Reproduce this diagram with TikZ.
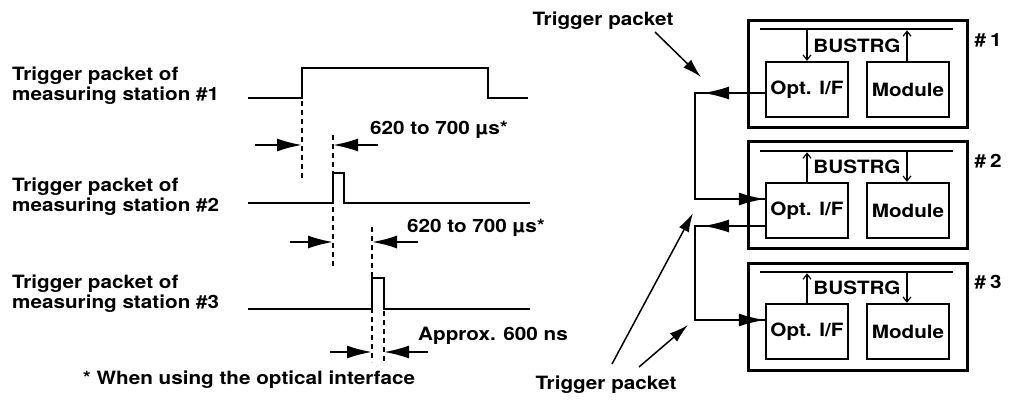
\documentclass[tikz,border=0pt]{standalone}
\usepackage{fontspec}
\setmainfont{TeX Gyre Heros}[FakeStretch=1.13]
\usetikzlibrary{arrows.meta}
\tikzset{
  wave/.style={line width=2.4pt, line join=miter},
  dashline/.style={line width=1.4pt, dash pattern=on 5pt off 4pt},
  dimarrow/.style={line width=2pt, -{Latex[length=25pt,width=13pt]}},
  conn/.style={line width=2pt, line join=miter},
  connarrow/.style={line width=2pt, -{Latex[length=26pt,width=13pt]}},
  trig/.style={line width=1.5pt, -{Latex[length=19pt,width=11pt]}},
  smallarrow/.style={line width=1.2pt, -{Straight Barb[length=5pt,width=8pt]}},
  outerbox/.style={draw, line width=3pt, minimum width=219pt, minimum height=107pt, inner sep=0pt},
  innerbox/.style={draw, line width=2.3pt, minimum width=82pt, minimum height=55pt, inner sep=0pt},
  busline/.style={line width=2.5pt},
  lbl/.style={inner sep=0pt, align=left},
}
\begin{document}
\begin{tikzpicture}[x=1pt, y=-1pt, font=\fontsize{18.3}{20}\selectfont\bfseries]
\useasboundingbox (0,0) rectangle (1009,399);

% ---- left labels
\node[lbl, anchor=west] (s1) at (12,86) {Trigger packet of\\measuring station \#1};
\node[lbl, anchor=west] (s2) at (12,197) {Trigger packet of\\measuring station \#2};
\node[lbl, anchor=west] (s3) at (12,294) {Trigger packet of\\measuring station \#3};

% ---- waveforms
\draw[wave] (248,98) -- (302,98) -- (302,68) -- (488,68) -- (488,98) -- (528,98);
\draw[wave] (248,203) -- (333,203) -- (333,173) -- (344,173) -- (344,203) -- (530,203);
\draw[wave] (248,309) -- (372,309) -- (372,278) -- (384,278) -- (384,309) -- (530,309);

% ---- dashed guides
\draw[dashline] (302,101) -- (302,182);
\draw[dashline] (333,135) -- (333,267);
\draw[dashline] (372,227) -- (372,362);
\draw[dashline] (384,311) -- (384,362);

% ---- dimension arrows
\draw[dimarrow] (255,145) -- (302,145);
\draw[dimarrow] (378,145) -- (333,145);
\draw[dimarrow] (290,242) -- (333,242);
\draw[dimarrow] (418,242) -- (372,242);
\draw[dimarrow] (330,352) -- (372,352);
\draw[dimarrow] (428,352) -- (384,352);

\node[lbl, anchor=west] (d1) at (370,130) {620 to 700 µs*};
\node[lbl, anchor=west] (d2) at (407,228) {620 to 700 µs*};
\node[lbl, anchor=west] (d3) at (418,336) {Approx. 600 ns};

\node[lbl] (foot) at (249,380) {* When using the optical interface};

% ---- right: stations
\node[outerbox] (b1) at (857.5,74) {};
\node[outerbox] (b2) at (857.5,195) {};
\node[outerbox] (b3) at (857.5,317) {};

\node[innerbox] (opt1) at (807,89.5) {Opt. I/F};
\node[innerbox] (mod1) at (908,89.5) {Module};
\node[innerbox] (opt2) at (807,210.5) {Opt. I/F};
\node[innerbox] (mod2) at (908,210.5) {Module};
\node[innerbox] (opt3) at (807,331.5) {Opt. I/F};
\node[innerbox] (mod3) at (908,331.5) {Module};

\coordinate (bus1) at (760,29);
\coordinate (bus2) at (760,151);
\coordinate (bus3) at (760,272);
\draw[busline] (bus1) -- ++(193,0);
\draw[busline] (bus2) -- ++(193,0);
\draw[busline] (bus3) -- ++(193,0);

\node[inner sep=0pt] (bt1) at (857,46) {BUSTRG};
\node[inner sep=0pt] (bt2) at (857,167) {BUSTRG};
\node[inner sep=0pt] (bt3) at (857,288) {BUSTRG};

\draw[smallarrow] ([yshift=-1.3pt]opt1.north |- bus1) -- (opt1.north);
\draw[smallarrow] ([xshift=-1pt]mod1.north) -- ([xshift=-1pt,yshift=-1.3pt]mod1.north |- bus1);
\draw[smallarrow] (opt2.north) -- ([yshift=-1.3pt]opt2.north |- bus2);
\draw[smallarrow] ([xshift=-1pt,yshift=-1.3pt]mod2.north |- bus2) -- ([xshift=-1pt]mod2.north);
\draw[smallarrow] (opt3.north) -- ([yshift=-1.3pt]opt3.north |- bus3);
\draw[smallarrow] ([xshift=-1pt,yshift=-1.3pt]mod3.north |- bus3) -- ([xshift=-1pt]mod3.north);

\node[inner sep=0pt] (n1) at (988,40) {\#\hspace{4pt}1};
\node[inner sep=0pt] (n2) at (988,161) {\#\hspace{4pt}2};
\node[inner sep=0pt] (n3) at (988,282) {\#\hspace{4pt}3};

% ---- connectors between stations
\coordinate (k1) at (695,93);
\coordinate (k2) at (695,199);
\coordinate (k3) at (695,226);
\coordinate (k4) at (695,320);
\draw[conn] (opt1.west |- k1) -- (k1) -- (k2) -- (opt2.west |- k2);
\draw[connarrow] (opt1.west |- k1) -- ([xshift=8pt]k1);
\draw[connarrow] (k2) -- (opt2.west |- k2);
\draw[conn] (opt2.west |- k3) -- (k3) -- (k4) -- (opt3.west |- k4);
\draw[connarrow] (opt2.west |- k3) -- ([xshift=8pt]k3);
\draw[connarrow] (k4) -- (opt3.west |- k4);

% ---- trigger packet labels
\node[inner sep=0pt] (tpa) at (603,21) {Trigger packet};
\node[inner sep=0pt] (tpb) at (606,385) {Trigger packet};
\coordinate (ta0) at (655,32);
\coordinate (ta1) at (701,77);
\coordinate (tb0) at (612,364);
\coordinate (tb1) at (693,213);
\coordinate (tc0) at (639,367);
\coordinate (tc1) at (688,325);
\draw[trig] (ta0) -- (ta1);
\draw[trig] (tb0) -- (tb1);
\draw[trig] (tc0) -- (tc1);
\end{tikzpicture}
\end{document}
